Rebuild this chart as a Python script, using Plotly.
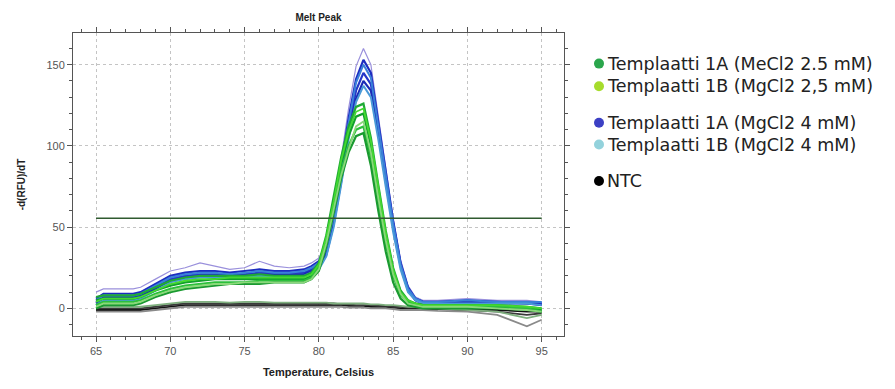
import plotly.graph_objects as go

# Temperatures (°C) at which the melt-peak curves were read
temps = [65, 65.5, 67.5, 68, 69, 70, 71, 72, 73, 74, 75, 76, 77, 78, 79, 79.5, 80, 80.5,
         81, 81.5, 82, 82.5, 83, 83.5, 84, 84.5, 85, 85.5, 86, 86.5, 87, 88, 90, 92, 94, 95]

# Templaatti 1A (MgCl2 4 mM) - dark blue curves
blue_1a_4mm = [
    [10, 12, 12, 13, 18, 23, 25, 28, 26, 24, 25, 29, 26, 25, 26, 28, 31, 40, 62, 92, 123, 149, 160, 150, 118, 85, 55, 30, 14, 7, 5, 5, 6, 5, 5, 4],
    [6, 9, 9, 10, 15, 20, 22, 23, 23, 22, 23, 24, 23, 23, 24, 26, 29, 38, 58, 87, 117, 141, 153, 145, 115, 83, 54, 28, 13, 6, 4, 4, 5, 4, 4, 3],
    [4, 7, 7, 8, 13, 18, 20, 21, 21, 21, 21, 22, 22, 22, 22, 24, 27, 35, 55, 82, 111, 134, 145, 138, 110, 80, 52, 27, 12, 6, 4, 4, 4, 4, 3, 3],
    [3, 6, 6, 7, 12, 17, 19, 20, 20, 20, 20, 21, 21, 21, 21, 23, 25, 33, 52, 78, 107, 129, 140, 134, 108, 78, 50, 26, 11, 5, 3, 3, 4, 3, 3, 2],
]
# Templaatti 1B (MgCl2 4 mM) - light blue curves
cyan_1b_4mm = [
    [5, 8, 8, 9, 14, 19, 21, 22, 22, 21, 22, 23, 22, 22, 23, 25, 28, 37, 57, 85, 114, 139, 150, 142, 112, 80, 52, 27, 12, 6, 4, 4, 5, 4, 4, 4],
    [2, 5, 5, 6, 11, 16, 18, 19, 19, 19, 20, 20, 20, 20, 20, 22, 24, 32, 50, 76, 104, 127, 137, 130, 104, 75, 47, 24, 10, 5, 3, 3, 3, 3, 3, 2],
]
# Templaatti 1A (MgCl2 2.5 mM) - green curves
green_1a_25mm = [
    [7, 8, 8, 9, 13, 17, 19, 20, 20, 20, 20, 21, 20, 20, 20, 22, 28, 45, 68, 93, 112, 124, 126, 105, 76, 48, 25, 11, 5, 3, 2, 2, 2, 2, 1, 0],
    [5, 6, 6, 7, 11, 14, 16, 17, 18, 18, 18, 18, 18, 18, 18, 20, 26, 43, 65, 89, 106, 118, 120, 100, 72, 45, 23, 10, 4, 3, 2, 2, 2, 1, 0, -1],
    [2, 4, 4, 5, 9, 12, 14, 15, 16, 16, 16, 17, 17, 17, 17, 19, 25, 41, 61, 84, 100, 110, 112, 93, 66, 40, 20, 8, 4, 2, 1, 1, 1, 1, 0, -2],
    [0, 2, 2, 3, 7, 10, 12, 13, 14, 15, 15, 15, 16, 16, 16, 18, 23, 38, 58, 80, 96, 106, 108, 88, 60, 35, 16, 6, 2, 1, 0, 0, 0, 0, -1, -2],
]
# Templaatti 1B (MgCl2 2,5 mM) - yellow-green curves
lime_1b_25mm = [
    [4, 6, 6, 7, 11, 15, 17, 18, 18, 19, 19, 19, 19, 19, 19, 21, 27, 44, 66, 91, 109, 121, 123, 103, 74, 47, 24, 10, 5, 3, 2, 2, 2, 2, 1, 0],
    [1, 3, 3, 4, 8, 11, 13, 14, 15, 15, 16, 16, 16, 16, 16, 18, 24, 40, 60, 82, 98, 112, 115, 96, 68, 42, 21, 9, 3, 2, 1, 1, 1, 0, -1, -2],
]
# NTC - flat curves
ntc = [
    [-1, -1, -1, -1, 0, 1, 2, 2, 2, 2, 2, 2, 2, 2, 2, 2, 2, 2, 2, 2, 1.5, 1.5, 1.5, 1, 1, 1, 0.5, 0, 0, 0, -0.5, -0.5, -1, -1, -2, -2],
    [0, 0, 0, 0, 1, 2, 3, 3, 3, 3, 3, 3, 3, 3, 3, 3, 3, 3, 3, 2.5, 2.5, 2, 2, 2, 1.5, 1.5, 1, 1, 0.5, 0.5, 0, 0, -1, -2, -4, -3],
    [-2, -2, -2, -2, -1, 0, 1, 1, 1, 1, 1, 1, 1, 1, 1, 1, 1, 1, 1, 1, 0.5, 0.5, 0.5, 0, 0, 0, -0.5, -1, -1, -1, -1, -1.5, -2, -4, -11, -7],
    [1, 1, 1, 1, 2, 3, 4, 4, 4, 3.5, 4, 4, 3.5, 3.5, 3.5, 3.5, 3.5, 3.5, 3, 3, 3, 3, 3, 2.5, 2.5, 2, 2, 1.5, 1, 1, 0.5, 0, -1, -2, -6, -4],
]
ntc_colors = ["#111111", "#3a3a3a", "#8a8a8a", "#7fb07f"]

threshold_x = [65, 95]
threshold_y = [55.5, 55.5]

legend_labels = ["Templaatti 1A (MeCl2 2.5 mM)", "Templaatti 1B (MgCl2 2,5 mM)",
                 "Templaatti 1A (MgCl2 4 mM)", "Templaatti 1B (MgCl2 4 mM)", "NTC"]
legend_colors = ["#2aa64c", "#a6dc2c", "#3c40c4", "#93d2dc", "#000000"]
legend_rows_px = [64, 87, 124, 146, 183]

x_ticks = [65, 70, 75, 80, 85, 90, 95]
y_ticks = [0, 50, 100, 150]

fig = go.Figure()

def add_curves(curves, colors, widths):
    for i, c in enumerate(curves):
        fig.add_trace(go.Scatter(x=temps, y=c, mode="lines", showlegend=False,
                                 line=dict(color=colors[i % len(colors)], width=widths[i % len(widths)]),
                                 hoverinfo="skip"))

add_curves(ntc, ntc_colors, [1.8])
add_curves(blue_1a_4mm, ["#9a90dc", "#1c2cc0", "#2437c8", "#1a2ab5"], [1.2, 2.2, 2.2, 2.2])
add_curves(cyan_1b_4mm, ["#3a80d8", "#4a9ad8"], [2.0])
add_curves(green_1a_25mm, ["#1faa35", "#12a02c", "#2cc03c", "#1a9a30"], [2.2])
add_curves(lime_1b_25mm, ["#44d830", "#8ad87a"], [1.8])

fig.add_trace(go.Scatter(x=threshold_x, y=threshold_y, mode="lines", showlegend=False,
                         line=dict(color="#2f5a2f", width=1.4), hoverinfo="skip"))

L, R, T, B = 73, 331, 33, 49
W, H = 895, 389
pw, ph = W - L - R, H - T - B

shapes = []
annotations = []
for lab, col, py in zip(legend_labels, legend_colors, legend_rows_px):
    yp = (H - B - py) / ph
    shapes.append(dict(type="circle", xref="paper", yref="paper",
                       xsizemode="pixel", ysizemode="pixel",
                       xanchor=(599 - L) / pw, yanchor=yp,
                       x0=-5, x1=5, y0=-5, y1=5,
                       fillcolor=col, line=dict(color=col, width=0)))
    annotations.append(dict(xref="paper", yref="paper", x=(605 - L) / pw, y=yp,
                            xanchor="left", yanchor="middle", showarrow=False,
                            text=lab, font=dict(family="DejaVu Sans", size=17.5, color="#222")))

axis_common = dict(showline=True, linecolor="#555", linewidth=1, mirror="ticks",
                   ticks="outside", ticklen=5, tickcolor="#555",
                   showgrid=True, gridcolor="#c4c4c4", griddash="dot", gridwidth=1,
                   zeroline=False,
                   tickfont=dict(family="Liberation Sans", size=11, color="#555"))

fig.update_layout(
    width=W, height=H,
    margin=dict(l=L, r=R, t=T, b=B, pad=0),
    paper_bgcolor="white", plot_bgcolor="white",
    title=dict(text="<b>Melt Peak</b>", x=(L + pw / 2) / W, xanchor="center",
               y=1 - 17 / H, yanchor="middle",
               font=dict(family="Liberation Sans", size=10, color="#222")),
    xaxis=dict(range=[63.45, 96.5], tickvals=x_ticks,
               minor=dict(dtick=1, tick0=65, ticklen=3, ticks="outside", tickcolor="#555", showgrid=False),
               title=dict(text="<b>Temperature, Celsius</b>", standoff=12,
                          font=dict(family="Liberation Sans", size=11, color="#222")),
               **axis_common),
    yaxis=dict(range=[-17, 169.5], tickvals=y_ticks,
               minor=dict(dtick=10, tick0=0, ticklen=3, ticks="outside", tickcolor="#555", showgrid=False),
               title=dict(text="<b>-d(RFU)/dT</b>", standoff=18,
                          font=dict(family="Liberation Sans", size=10, color="#222")),
               **axis_common),
    shapes=shapes, annotations=annotations,
)

fig.write_html("out.html")
